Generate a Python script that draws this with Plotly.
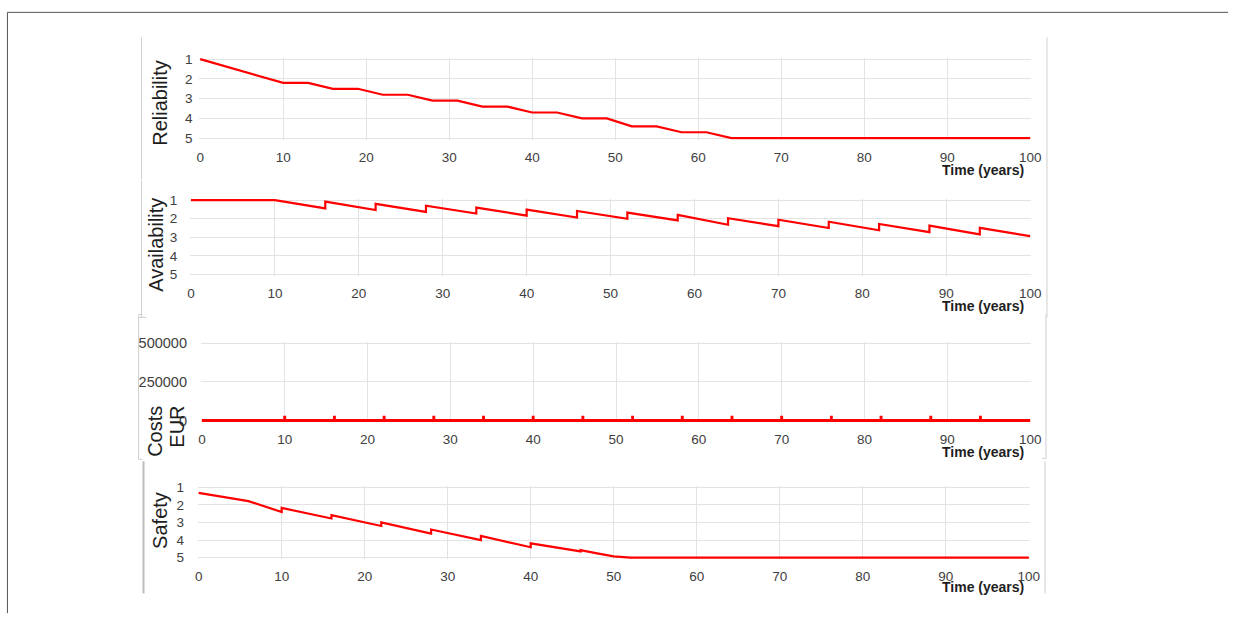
import plotly.graph_objects as go

W, H = 1243, 623

# ---------------- data ----------------
x_ticks = [0, 10, 20, 30, 40, 50, 60, 70, 80, 90, 100]
rating_ticks = [1, 2, 3, 4, 5]
cost_ticks = [0, 250000, 500000]
cost_tick_labels = ["0", "250000", "500000"]

rel_years = [0, 10, 13, 16, 19, 22, 25, 28, 31, 34, 37, 40, 43, 46, 49, 52, 55, 58, 61, 64, 100]
reliability = [1.0, 2.2, 2.2, 2.5, 2.5, 2.8, 2.8, 3.1, 3.1, 3.4, 3.4, 3.7, 3.7, 4.0, 4.0,
               4.4, 4.4, 4.7, 4.7, 5.0, 5.0]

av_years = [0, 10, 16, 16, 22, 22, 28, 28, 34, 34, 40, 40, 46, 46, 52, 52, 58, 58,
            64, 64, 70, 70, 76, 76, 82, 82, 88, 88, 94, 94, 100]
availability = [1.0, 1.0, 1.44, 1.08, 1.53, 1.2, 1.63, 1.3, 1.72, 1.4, 1.83, 1.51,
                1.93, 1.58, 2.0, 1.67, 2.09, 1.79, 2.32, 1.97, 2.4, 2.05, 2.5, 2.16,
                2.62, 2.28, 2.72, 2.37, 2.84, 2.49, 2.93]

cost_line_years = [0, 100]
cost_line_values = [0, 0]
cost_years = [10, 16, 22, 28, 34, 40, 46, 52, 58, 64, 70, 76, 82, 88, 94]
cost_values = [30000, 30000, 30000, 30000, 30000, 30000, 30000, 30000, 30000, 30000,
               30000, 30000, 30000, 30000, 30000]

saf_years = [0, 6, 10, 10, 16, 16, 22, 22, 28, 28, 34, 34, 40, 40, 46, 46, 48, 50, 52, 100]
safety = [1.31, 1.78, 2.4, 2.17, 2.77, 2.58, 3.2, 2.99, 3.63, 3.4, 4.0, 3.77, 4.41, 4.19,
          4.65, 4.58, 4.76, 4.93, 5.0, 5.0]

# ---------------- layout helpers ----------------
FONT = "Liberation Sans, Arial, Helvetica, sans-serif"
RED = "#ff0000"
GRID = "#e3e3e3"
TICKC = "#404040"


def px(x):
    return x / W


def py(y):
    return 1 - y / H


# panel geometry: (px of x=0, px of x=100, px of top value, px of bottom value)
panels = {
    1: dict(x0=199.3, x1=1038.0, yt=54.3, yb=135.0, lo=5, hi=1, ylen=3, xlen=5, yfs=13.5),
    2: dict(x0=190.0, x1=1038.0, yt=198.3, yb=274.3, lo=5, hi=1, ylen=9, xlen=5, yfs=13.5),
    3: dict(x0=201.0, x1=1038.0, yt=344.3, yb=423.3, lo=0, hi=500000, ylen=10, xlen=5, yfs=14.5),
    4: dict(x0=197.7, x1=1036.7, yt=491.7, yb=563.3, lo=5, hi=1, ylen=10, xlen=5, yfs=13.5),
}

fig = go.Figure()

line_style = dict(color=RED, width=2.2)
fig.add_trace(go.Scatter(x=rel_years, y=reliability, mode="lines", line=line_style,
                         xaxis="x", yaxis="y", showlegend=False, hoverinfo="skip"))
fig.add_trace(go.Scatter(x=av_years, y=availability, mode="lines", line=line_style,
                         xaxis="x2", yaxis="y2", showlegend=False, hoverinfo="skip"))
fig.add_trace(go.Bar(x=cost_years, y=cost_values, width=0.35, marker=dict(color=RED, line=dict(width=0)),
                     xaxis="x3", yaxis="y3", showlegend=False, hoverinfo="skip"))
fig.add_trace(go.Scatter(x=cost_line_years, y=cost_line_values, mode="lines",
                         line=dict(color=RED, width=3),
                         xaxis="x3", yaxis="y3", showlegend=False, hoverinfo="skip"))
fig.add_trace(go.Scatter(x=saf_years, y=safety, mode="lines", line=line_style,
                         xaxis="x4", yaxis="y4", showlegend=False, hoverinfo="skip"))

layout = dict(
    autosize=True,
    margin=dict(l=0, r=0, t=0, b=0, pad=0),
    paper_bgcolor="white", plot_bgcolor="white",
    font=dict(family=FONT, color=TICKC, size=13),
    barmode="overlay",
    shapes=[], annotations=[],
)

XPAD_PX = 1.0
YPAD_PX = 1.5
for i, p in panels.items():
    sfx = "" if i == 1 else str(i)
    ppx = (p["x1"] - p["x0"]) / 100.0
    xpad = XPAD_PX / ppx
    ppy = (p["yb"] - p["yt"]) / abs(p["hi"] - p["lo"])
    ypad = YPAD_PX / ppy
    if p["lo"] > p["hi"]:
        yrange = [p["lo"] + ypad, p["hi"] - ypad]
        tickvals = rating_ticks
        ticktext = [str(v) for v in rating_ticks]
    else:
        yrange = [p["lo"] - ypad, p["hi"] + ypad]
        tickvals = cost_ticks
        ticktext = cost_tick_labels
    layout["xaxis" + sfx] = dict(
        domain=[px(p["x0"] - XPAD_PX), px(p["x1"] + XPAD_PX)],
        range=[-xpad, 100 + xpad],
        anchor="y" + sfx,
        tickvals=x_ticks, ticktext=[str(v) for v in x_ticks],
        showgrid=True, gridcolor=GRID, gridwidth=1, zeroline=False, showline=False,
        ticks="outside", ticklen=p["xlen"], tickcolor="rgba(0,0,0,0)",
        tickfont=dict(family=FONT, size=13.5, color=TICKC),
        fixedrange=True,
    )
    layout["yaxis" + sfx] = dict(
        domain=[py(p["yb"] + YPAD_PX), py(p["yt"] - YPAD_PX)],
        range=yrange,
        anchor="x" + sfx,
        tickvals=tickvals, ticktext=ticktext,
        showgrid=True, gridcolor=GRID, gridwidth=1, zeroline=False, showline=False,
        ticks="outside", ticklen=p["ylen"], tickcolor="rgba(0,0,0,0)",
        tickfont=dict(family=FONT, size=p["yfs"], color=TICKC),
        fixedrange=True,
    )

# axis titles (rotated)
titles = [
    ("Reliability", 159, 98.5),
    ("Availability", 155, 243.5),
    ("Costs", 153.5, 434),
    ("EUR", 175.5, 430),
    ("Safety", 158.5, 525),
]
for txt, x, y in titles:
    layout["annotations"].append(dict(
        text=txt, x=px(x), y=py(y), xref="paper", yref="paper",
        xanchor="center", yanchor="middle", textangle=-90, showarrow=False,
        font=dict(family=FONT, size=20, color="#1e1e1e"),
    ))

# "Time (years)" labels
for yc in [167.5, 306, 455, 593.5]:
    layout["annotations"].append(dict(
        text="<b>Time (years)</b>", x=px(1034), y=py(yc), xref="paper", yref="paper",
        xanchor="right", yanchor="middle", showarrow=False,
        font=dict(family=FONT, size=14, color="#1e1e1e"),
    ))

# panel frame lines (pasted image edges)
frame = "#cfcfcf"
segs = [
    (140, 32, 140, 177), (1055, 32, 1055, 180),
    (140, 178, 140, 318), (137, 318, 145, 318), (1055, 180, 1055, 318),
    (137, 315, 137, 463), (137, 315, 141, 315), (137, 463, 141, 463), (1054, 315, 1054, 462),
    (1054, 462, 1050, 462),
    (1053, 465, 1053, 600),
]
for x0, y0, x1, y1 in segs:
    layout["shapes"].append(dict(type="line", xref="paper", yref="paper",
                                 x0=px(x0), y0=py(y0), x1=px(x1), y1=py(y1),
                                 line=dict(color=frame, width=1)))
layout["shapes"].append(dict(type="line", xref="paper", yref="paper",
                             x0=px(142), y0=py(465), x1=px(142), y1=py(600),
                             line=dict(color="#bdbdbd", width=2)))
# outer figure frame (top and left)
layout["shapes"].append(dict(type="line", xref="paper", yref="paper",
                             x0=px(4.5), y0=py(6.5), x1=px(1238), y1=py(6.5),
                             line=dict(color="#555555", width=1)))
layout["shapes"].append(dict(type="line", xref="paper", yref="paper",
                             x0=px(4.5), y0=py(6.5), x1=px(4.5), y1=py(620),
                             line=dict(color="#555555", width=1)))

fig.update_layout(**layout)
fig.write_html(
    "out.html",
    config=dict(displayModeBar=False, responsive=False),
    default_width="1243px;position:absolute;left:0px;top:0px;margin:0px",
    default_height="623px",
    post_script="document.body.style.margin='0';",
)
